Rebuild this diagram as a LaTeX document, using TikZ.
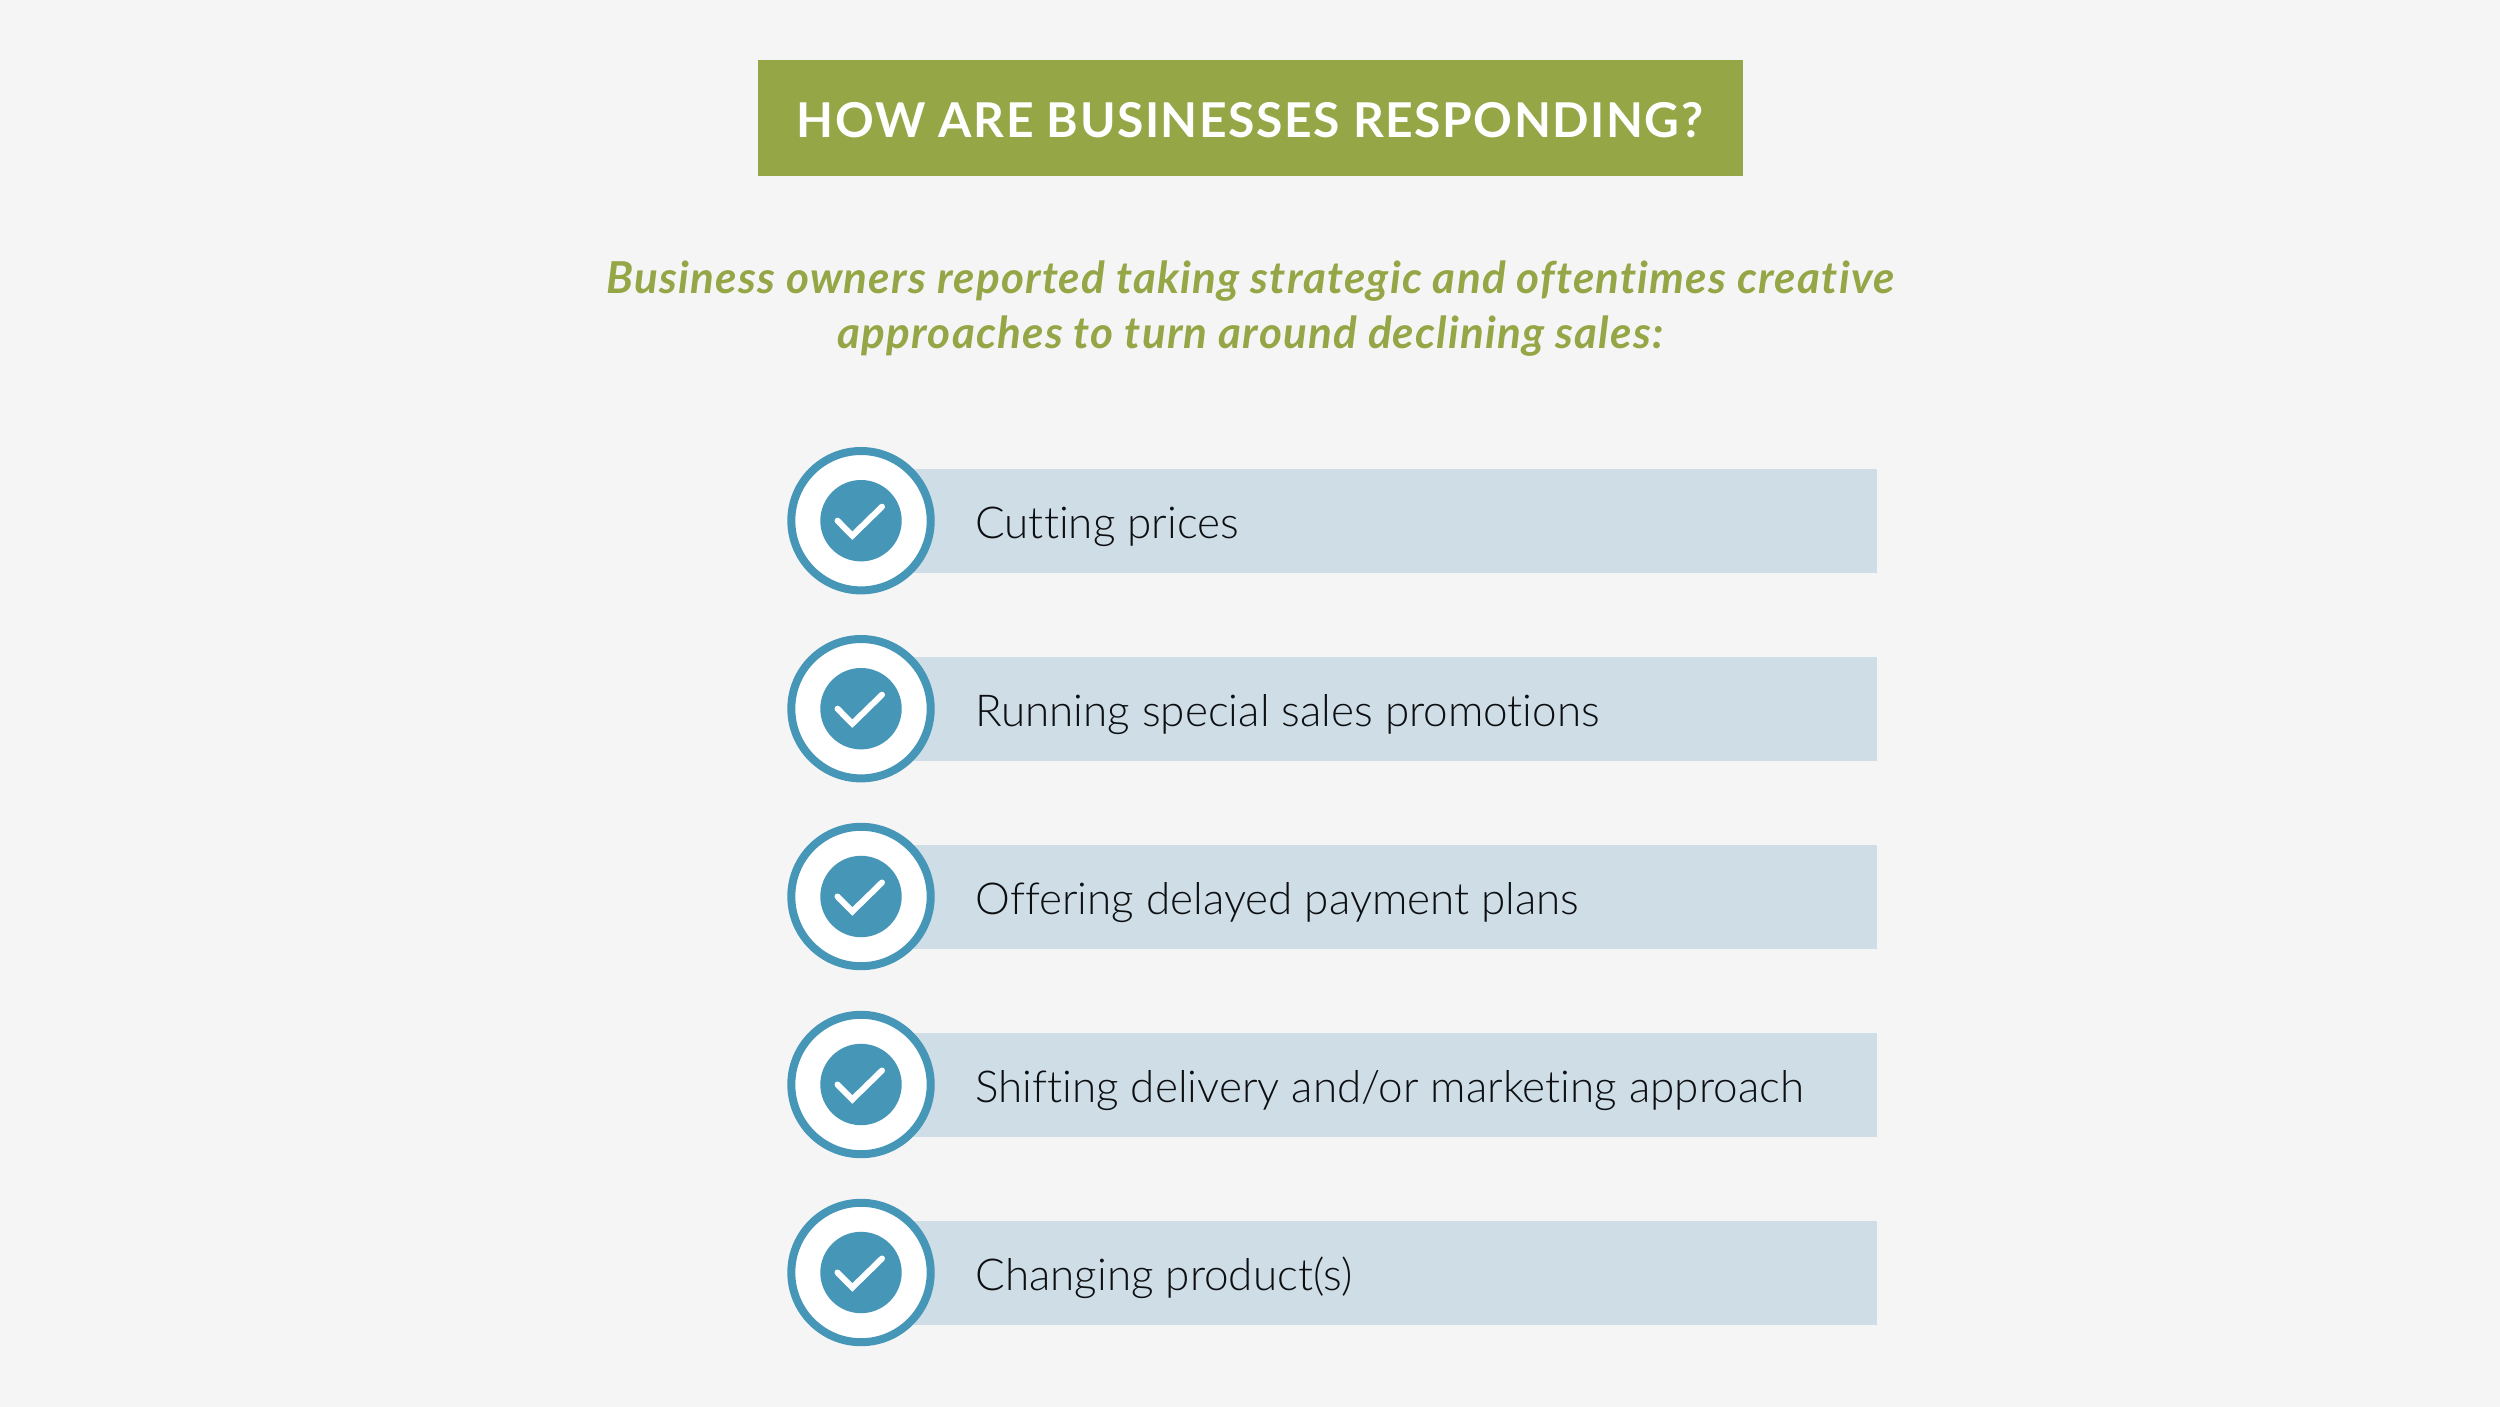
\documentclass[tikz,border=0pt]{standalone}
\usepackage{fontspec}
\setmainfont[Ligatures=NoCommon]{Lato}
\newfontfamily\lightfont[Ligatures=NoCommon]{Lato Light}
\newfontfamily\titlefont[Ligatures=NoCommon,LetterSpace=3.2,BoldFont={Lato Bold}]{Lato}
\newfontfamily\subfont[Ligatures=NoCommon,LetterSpace=2.8,BoldItalicFont={Lato Bold Italic},BoldFont={Lato Bold}]{Lato}
\definecolor{bgc}{HTML}{F5F5F6}
\definecolor{greenc}{HTML}{94A645}
\definecolor{barc}{HTML}{CFDDE6}
\definecolor{bluec}{HTML}{4696B7}
\definecolor{inkc}{HTML}{0C0F12}
\tikzset{
  x=0.5pt,y=-0.5pt,
  ringdot/.style={circle,fill=white,draw=bluec,line width=4pt,minimum size=69.7pt,inner sep=0pt},
  hubdot/.style={circle,fill=bluec,draw=none,minimum size=40.7pt,inner sep=0pt},
  tickline/.style={draw=white,line width=3pt,line cap=round,line join=miter},
  itemtext/.style={anchor=base west,inner sep=0pt,text=inkc,font=\lightfont\fontsize{22}{27}\selectfont},
  subtext/.style={anchor=base,inner sep=0pt,text=greenc,font=\subfont\bfseries\itshape\fontsize{22}{27}\selectfont},
}
\newcommand{\itemrow}[3]{%
  \fill[barc] (861,#1-52) rectangle (1877,#1+52);
  \node[ringdot] (ring#2) at (861,#1) {};
  \node[hubdot] (hub#2) at (861,#1) {};
  \draw[tickline] (837.5,#1) -- (852.3,#1+15) -- (882,#1-14);
  \node[itemtext] (item#2) at (975,#1+17.5) {#3};
}
\begin{document}
\begin{tikzpicture}
\useasboundingbox (0,0) rectangle (2500,1407);
\fill[bgc] (0,0) rectangle (2500,1407);
\fill[greenc] (757.5,60) rectangle (1742.5,176);
\node[anchor=base,inner sep=0pt,text=white,font=\titlefont\bfseries\fontsize{24}{28}\selectfont] (title) at (1250,137.5) {HOW ARE BUSINESSES RESPONDING?};
\node[subtext] (sub1) at (1250.5,293.5) {Business owners reported taking strategic and oftentimes creative};
\node[subtext] (sub2) at (1250.5,349) {approaches to turn around declining sales:};
\itemrow{520.7}{a}{Cutting prices}
\itemrow{708.7}{b}{Running special sales promotions}
\itemrow{896.5}{c}{Offering delayed payment plans}
\itemrow{1084.5}{d}{Shifting delivery and/or marketing approach}
\itemrow{1272.5}{e}{Changing product(s)}
\end{tikzpicture}
\end{document}
